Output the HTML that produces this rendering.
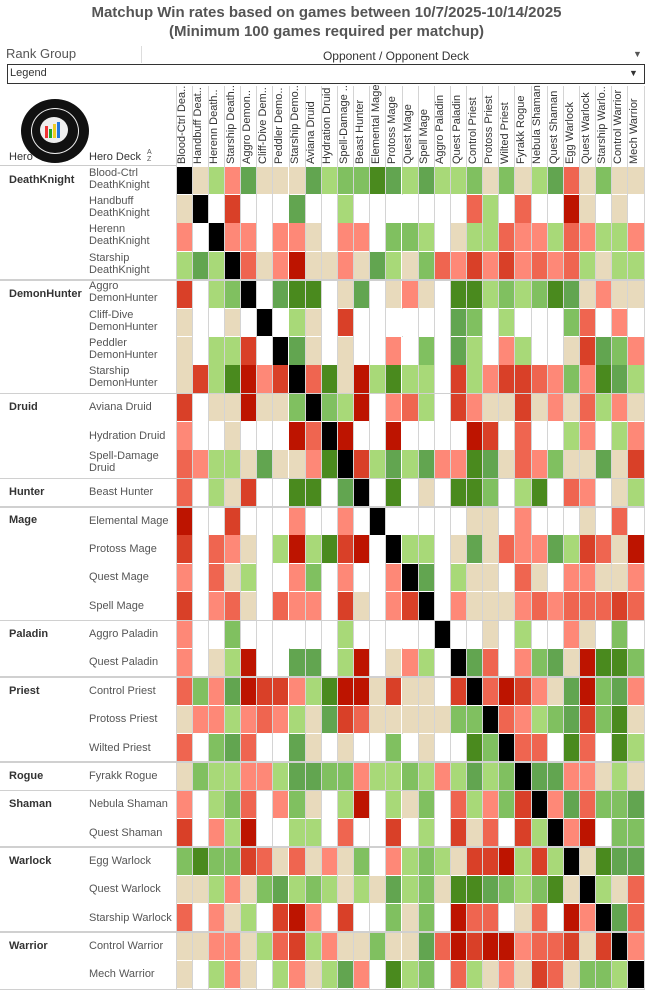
<!DOCTYPE html>
<html><head><meta charset="utf-8"><style>
body{margin:0;width:653px;height:997px;background:#fff;position:relative;overflow:hidden;font-family:"Liberation Sans",Arial,sans-serif;}
.a{position:absolute;white-space:nowrap}
.t{font-weight:bold;color:#555;font-size:15px;width:653px;text-align:center;left:0}
.ch{position:absolute;font-size:11px;color:#333;transform-origin:0 0;transform:rotate(-90deg);white-space:nowrap}
.hero{position:absolute;left:9px;font-weight:bold;font-size:11px;color:#333}
.deck{position:absolute;left:89px;width:86px;font-size:11px;color:#555;line-height:12px;display:flex;align-items:center}
</style></head><body>
<div class="a t" style="top:4px">Matchup Win rates based on games between 10/7/2025-10/14/2025</div>
<div class="a t" style="top:23px">(Minimum 100 games required per matchup)</div>
<div class="a" style="left:6px;top:46px;font-size:13px;color:#555">Rank Group</div>
<div class="a" style="left:141px;top:46px;width:1px;height:17px;background:#ddd"></div>
<div class="a" style="left:141px;top:49px;width:510px;text-align:center;font-size:12px;color:#333">Opponent / Opponent Deck</div>
<div class="a" style="left:633px;top:49px;font-size:9px;color:#555">▼</div>
<div class="a" style="left:7px;top:64px;width:636px;height:18px;border:1px solid #333"></div>
<div class="a" style="left:10px;top:67px;font-size:11px;color:#333">Legend</div>
<div class="a" style="left:629px;top:68px;font-size:9px;color:#333">▼</div>
<div class="a" style="left:21px;top:99px;width:68px;height:64px;border-radius:50%;background:#111"></div>
<div class="a" style="left:31px;top:108px;width:46px;height:44px;border-radius:50%;border:1px solid #eee"></div>
<div class="a" style="left:40px;top:117px;width:28px;height:26px;border-radius:50%;background:#eee"></div>
<div class="a" style="left:45px;top:126px;width:3px;height:12px;background:#e33"></div>
<div class="a" style="left:49px;top:129px;width:3px;height:9px;background:#2a2"></div>
<div class="a" style="left:53px;top:124px;width:3px;height:14px;background:#ec2"></div>
<div class="a" style="left:57px;top:122px;width:3px;height:16px;background:#27d"></div>
<div class="a" style="left:9px;top:151px;font-size:11px;color:#333">Hero</div>
<div class="a" style="left:89px;top:151px;font-size:11px;color:#333">Hero Deck</div>
<div class="a" style="left:147px;top:149px;font-size:7px;line-height:7px;color:#555">A<br>Z</div>
<div class="a" style="left:0;top:165px;width:176px;height:1px;background:#ccc"></div>
<div class="ch" style="left:176px;top:164px">Blood-Ctrl Dea..</div>
<div class="ch" style="left:192px;top:164px">Handbuff Deat..</div>
<div class="ch" style="left:208px;top:164px">Herenn Death..</div>
<div class="ch" style="left:225px;top:164px">Starship Death..</div>
<div class="ch" style="left:241px;top:164px">Aggro Demon..</div>
<div class="ch" style="left:257px;top:164px">Cliff-Dive Dem..</div>
<div class="ch" style="left:273px;top:164px">Peddler Demo..</div>
<div class="ch" style="left:289px;top:164px">Starship Demo..</div>
<div class="ch" style="left:305px;top:164px">Aviana Druid</div>
<div class="ch" style="left:321px;top:164px">Hydration Druid</div>
<div class="ch" style="left:338px;top:164px">Spell-Damage ..</div>
<div class="ch" style="left:354px;top:164px">Beast Hunter</div>
<div class="ch" style="left:370px;top:164px">Elemental Mage</div>
<div class="ch" style="left:386px;top:164px">Protoss Mage</div>
<div class="ch" style="left:402px;top:164px">Quest Mage</div>
<div class="ch" style="left:418px;top:164px">Spell Mage</div>
<div class="ch" style="left:434px;top:164px">Aggro Paladin</div>
<div class="ch" style="left:451px;top:164px">Quest Paladin</div>
<div class="ch" style="left:467px;top:164px">Control Priest</div>
<div class="ch" style="left:483px;top:164px">Protoss Priest</div>
<div class="ch" style="left:499px;top:164px">Wilted Priest</div>
<div class="ch" style="left:515px;top:164px">Fyrakk Rogue</div>
<div class="ch" style="left:531px;top:164px">Nebula Shaman</div>
<div class="ch" style="left:548px;top:164px">Quest Shaman</div>
<div class="ch" style="left:564px;top:164px">Egg Warlock</div>
<div class="ch" style="left:580px;top:164px">Quest Warlock</div>
<div class="ch" style="left:596px;top:164px">Starship Warlo..</div>
<div class="ch" style="left:612px;top:164px">Control Warrior</div>
<div class="ch" style="left:628px;top:164px">Mech Warrior</div>

<div class="hero" style="top:174px">DeathKnight</div>
<div class="hero" style="top:288px">DemonHunter</div>
<div class="hero" style="top:401px">Druid</div>
<div class="hero" style="top:486px">Hunter</div>
<div class="hero" style="top:514px">Mage</div>
<div class="hero" style="top:628px">Paladin</div>
<div class="hero" style="top:685px">Priest</div>
<div class="hero" style="top:770px">Rogue</div>
<div class="hero" style="top:798px">Shaman</div>
<div class="hero" style="top:855px">Warlock</div>
<div class="hero" style="top:940px">Warrior</div>
<div id="decks"></div>
<div id="grid"></div>
<script>
var decks=["Blood-Ctrl DeathKnight","Handbuff DeathKnight","Herenn DeathKnight","Starship DeathKnight","Aggro DemonHunter","Cliff-Dive DemonHunter","Peddler DemonHunter","Starship DemonHunter","Aviana Druid","Hydration Druid","Spell-Damage Druid","Beast Hunter","Elemental Mage","Protoss Mage","Quest Mage","Spell Mage","Aggro Paladin","Quest Paladin","Control Priest","Protoss Priest","Wilted Priest","Fyrakk Rogue","Nebula Shaman","Quest Shaman","Egg Warlock","Quest Warlock","Starship Warlock","Control Warrior","Mech Warrior"];
var rows=[
"KTLPGTTTGLMMDGLGLLMTMTLGOTMTT",
"TKWRWWWGWWLWWWWWWWOLWOWWXTWTW",
"PWKPPWPPTWPPWMMLWTLLOPPLOPLLP",
"LGLKOTPXTTPTGLTMOPRPRPOPOLTLL",
"RWLMKWGDDWTGWTPTWDDLMLMDGTPTT",
"TWWTWKWLTWRWWWWWWGMWLWWWMOWPW",
"TWLLRWKGTWTWWPWMWGLWPLWWTRGMP",
"TRLDXPRKODTXLDLLWRLPRROPMPDGL",
"RWTTXTTMKMLXWPOLWRPTTRTPTOLPT",
"PWWTWWWXOKXWWXWWWWXRWOWWLPWLP",
"OPLLTGTTPDKRLGLGPPDGTOPMTTGTR",
"OWLTRWWDDWGKWDWTWDDMWLDWOPWTL",
"XWWRWWWPWWPWKWWWWWTTWPWWWTWOW",
"RWOPTWLXLDRXWKLLWTGTOPPGLROTX",
"PWOTLWWPMWPWWPKGWLTTWOTWPPTTP",
"RWPOTWOPPWRTWPRKWPTTTPOPOOORO",
"PWWMWWWWWWLWWWWWKWWTWLWWPTWMW",
"PWTLXWWGGWLXWTPLWKGOWPMGTXDDM",
"OMPGXRRPLDXXTRTTWRKOXRPTGXMGP",
"TPPLPOPLTGROTTTTTMMKOPLMGRMDT",
"OWMGOWWGTWTWWMWTWWDMKOOWDOWDL",
"TMLLPPLGGMMPLLMLPLGLMKGGPPTLT",
"PWLMOWPMTWLXWLTMWOLPMRKPGOMMG",
"RWPLXWWLLWOWWRWLWRTOWRLKPXWMM",
"MDMMROTOTPTMWPLMLTRRXLRLKTDGG",
"TTLPTMGLMLTLTGLMTDDGMLMDTKLTO",
"OWPTLWRXPWRWWMTMWXOOWTOWXPKGO",
"TTPPTLORLPTTMTTGOXRXXPOORTRKP",
"TWLPTWLPTLGPWDLMWOLTPTROTMMLK"];
var C={K:"#000",T:"#e8dabc",W:"#fff",L:"#a8d978",M:"#80c060",G:"#62a550",D:"#4a8a1e",P:"#fe8877",O:"#ef6550",R:"#d94028",X:"#bd1400"};
var x0=176.5,cw=16.14,y0=166.7,rh=28.36;
var h="";
var seps=[4,8,11,12,16,18,21,22,24,27];
for(var c=0;c<=29;c++){h+='<div class="a" style="left:'+(x0+c*cw-1).toFixed(1)+'px;top:86px;width:1px;height:'+(y0+29*rh-86).toFixed(1)+'px;background:#d4d4d4"></div>';}
for(var r=0;r<29;r++){for(var c=0;c<29;c++){
h+='<div class="a" style="left:'+(x0+c*cw).toFixed(2)+'px;top:'+(y0+r*rh).toFixed(2)+'px;width:'+(cw-1).toFixed(2)+'px;height:'+(rh-0.7).toFixed(2)+'px;background:'+C[rows[r][c]]+'"></div>';}}
for(var i=0;i<seps.length;i++){h+='<div class="a" style="left:0;top:'+(y0+seps[i]*rh-1).toFixed(1)+'px;width:645px;height:1.5px;background:#d0d0d0"></div>';}
h+='<div class="a" style="left:0;top:'+(y0+29*rh).toFixed(1)+'px;width:645px;height:1px;background:#d0d0d0"></div>';
document.getElementById("grid").innerHTML=h;
var d="";
for(var r=0;r<29;r++){var two=decks[r].length>16&&decks[r].indexOf("Druid")<0||decks[r]=="Spell-Damage Druid";
d+='<div class="deck" style="top:'+(y0+r*rh+(two?0:0)).toFixed(1)+'px;height:'+(rh-1).toFixed(1)+'px;'+(two?'align-items:flex-start;':'')+'">'+decks[r]+'</div>';}
document.getElementById("decks").innerHTML=d;
</script>
</body></html>
